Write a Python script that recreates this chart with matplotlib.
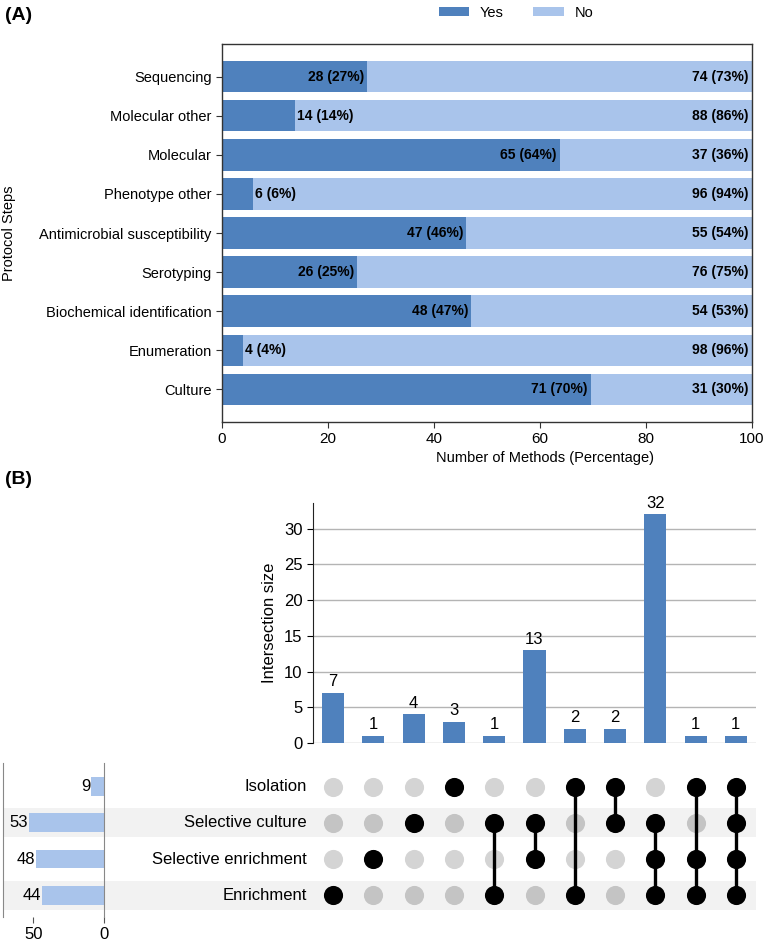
import matplotlib
matplotlib.use("Agg")
import matplotlib.pyplot as plt
from matplotlib.patches import Patch

plt.rcParams['font.family'] = ['Liberation Sans', 'DejaVu Sans']

# ---------------- Data: panel A ----------------
steps = ['Culture', 'Enumeration', 'Biochemical identification', 'Serotyping',
         'Antimicrobial susceptibility', 'Phenotype other', 'Molecular',
         'Molecular other', 'Sequencing']
yes_counts = [71, 4, 48, 26, 47, 6, 65, 14, 28]
no_counts = [31, 98, 54, 76, 55, 96, 37, 88, 74]
x_ticks_a = [0, 20, 40, 60, 80, 100]

# ---------------- Data: panel B ----------------
set_names = ['Enrichment', 'Selective enrichment', 'Selective culture', 'Isolation']
set_totals = [44, 48, 53, 9]
intersections = [
    ('Enrichment',),
    ('Selective enrichment',),
    ('Selective culture',),
    ('Isolation',),
    ('Selective culture', 'Enrichment'),
    ('Selective culture', 'Selective enrichment'),
    ('Isolation', 'Enrichment'),
    ('Isolation', 'Selective culture'),
    ('Selective culture', 'Selective enrichment', 'Enrichment'),
    ('Isolation', 'Selective enrichment', 'Enrichment'),
    ('Isolation', 'Selective culture', 'Selective enrichment', 'Enrichment'),
]
intersection_sizes = [7, 1, 4, 3, 1, 13, 2, 2, 32, 1, 1]
inter_yticks = [0, 5, 10, 15, 20, 25, 30]
total_ticks = [50, 0]

YES_C = '#4f81bd'
NO_C = '#a9c4eb'

W, H = 767, 944
fig = plt.figure(figsize=(W / 100, H / 100), dpi=100)


def px_axes(x0, y0, x1, y1, **kw):
    return fig.add_axes([x0 / W, 1 - y1 / H, (x1 - x0) / W, (y1 - y0) / H], **kw)


# ================= Panel A =================
axA = px_axes(222, 44, 752, 422)
totals = [y + n for y, n in zip(yes_counts, no_counts)]
yes_pct = [y / t * 100 for y, t in zip(yes_counts, totals)]
no_pct = [n / t * 100 for n, t in zip(no_counts, totals)]
ypos = list(range(len(steps)))
axA.barh(ypos, yes_pct, height=0.8, color=YES_C, label='Yes')
axA.barh(ypos, no_pct, left=yes_pct, height=0.8, color=NO_C, label='No')
axA.set_xlim(0, 100)
axA.set_ylim(-0.84, len(steps) - 1 + 0.84)
axA.set_yticks(ypos)
axA.set_yticklabels(steps, fontsize=10.5)
axA.set_xticks(x_ticks_a)
axA.tick_params(axis='x', labelsize=11, length=4, color='#333333')
axA.tick_params(axis='y', length=4, color='#333333')
for sp in axA.spines.values():
    sp.set_color('#333333')
    sp.set_linewidth(1.0)

for i in range(len(steps)):
    ylab = f"{yes_counts[i]} ({round(yes_pct[i])}%)"
    nlab = f"{no_counts[i]} ({round(no_pct[i])}%)"
    if yes_pct[i] < 20:
        axA.text(yes_pct[i] + 0.4, i, ylab, ha='left', va='center',
                 fontsize=10, fontweight='bold', color='black')
    else:
        axA.text(yes_pct[i] - 0.6, i, ylab, ha='right', va='center',
                 fontsize=10, fontweight='bold', color='black')
    axA.text(99.4, i, nlab, ha='right', va='center',
             fontsize=10, fontweight='bold', color='black')

fig.text(9 / W, 1 - 233 / H, 'Protocol Steps', rotation=90, ha='center',
         va='center', fontsize=10.5)
fig.text(545 / W, 1 - 458 / H, 'Number of Methods (Percentage)', ha='center',
         va='center', fontsize=10.5)
fig.text(5 / W, 1 - 15 / H, '(A)', ha='left', va='center', fontsize=14,
         fontweight='bold')

handles = [Patch(facecolor=YES_C, label='Yes'), Patch(facecolor=NO_C, label='No')]
fig.legend(handles=handles, loc='center', bbox_to_anchor=(516 / W, 1 - 13 / H),
           ncol=2, frameon=False, fontsize=10.5, handlelength=2.1,
           handleheight=0.6, handletextpad=0.75, columnspacing=2.0)

# ================= Panel B =================
fig.text(5 / W, 1 - 480 / H, '(B)', ha='left', va='center', fontsize=14,
         fontweight='bold')

n_int = len(intersection_sizes)
axI = px_axes(313, 503, 756, 743)
xs = list(range(n_int))
axI.bar(xs, intersection_sizes, width=0.55, color=YES_C, zorder=3)
axI.set_xlim(-0.5, n_int - 0.5)
axI.set_ylim(0, max(intersection_sizes) * 1.05)
axI.set_yticks(inter_yticks)
axI.set_xticks([])
axI.tick_params(axis='y', labelsize=12, length=4)
axI.grid(axis='y', color='#b4b4b4', linewidth=1.0, zorder=0)
for s in ['top', 'right', 'bottom']:
    axI.spines[s].set_visible(False)
axI.spines['left'].set_color('#222222')
for x, v in zip(xs, intersection_sizes):
    axI.text(x, v + 0.5, str(v), ha='center', va='bottom', fontsize=12)
fig.text(270 / W, 1 - 623 / H, 'Intersection size', rotation=90, ha='center',
         va='center', fontsize=12)

# matrix
axM = px_axes(3, 763, 756, 917)
left_lim = -0.5 - (313 - 3) / ((756 - 313) / n_int)
axM.set_xlim(left_lim, n_int - 0.5)
axM.set_ylim(-0.6, len(set_names) - 1 + 0.65)
axM.axis('off')
shaded = {'Enrichment', 'Selective culture'}
for r, name in enumerate(set_names):
    if name in shaded:
        axM.axhspan(r - 0.4, r + 0.4, color='#f2f2f2', zorder=0, lw=0)
    axM.text(-0.65, r, name, ha='right', va='center', fontsize=12)

for c, members in enumerate(intersections):
    rows_in = [set_names.index(m) for m in members]
    for r, name in enumerate(set_names):
        if r in rows_in:
            continue
        col = '#c4c4c4' if name in shaded else '#d4d4d4'
        axM.scatter([c], [r], s=190, color=col, zorder=2, linewidths=0)
    if len(rows_in) > 1:
        axM.plot([c, c], [min(rows_in), max(rows_in)], color='black', lw=2.4,
                 zorder=3)
    axM.scatter([c] * len(rows_in), rows_in, s=190, color='black', zorder=4,
                linewidths=0)

# totals
axT = px_axes(3, 763, 104, 917)
axT.set_facecolor('none')
axT.barh(list(range(len(set_names))), set_totals, height=0.52, color=NO_C)
axT.set_xlim(71.4, 0)
axT.set_ylim(-0.6, len(set_names) - 1 + 0.65)
axT.set_yticks([])
axT.set_xticks(total_ticks)
axT.tick_params(axis='x', labelsize=12, length=4, color='#555555')
axT.spines['top'].set_visible(False)
axT.spines['bottom'].set_visible(False)
for s in ['left', 'right']:
    axT.spines[s].set_color('#888888')
for r, v in enumerate(set_totals):
    axT.text(v + 0.5, r, str(v), ha='right', va='center', fontsize=12)

fig.savefig('out.png', dpi=100)
